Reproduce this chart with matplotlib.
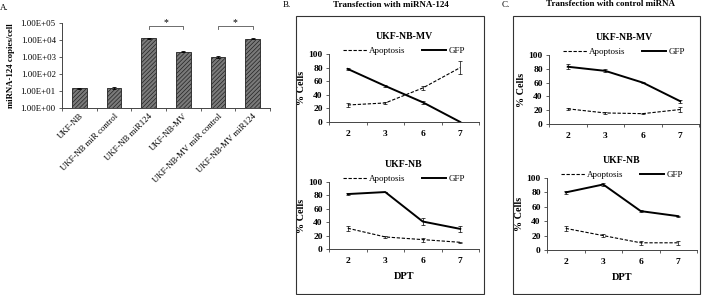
import matplotlib
matplotlib.use("Agg")
import matplotlib.pyplot as plt
import numpy as np
from matplotlib.ticker import FixedLocator, FuncFormatter
from matplotlib.patches import Rectangle

plt.rcParams['font.family'] = ['Liberation Serif', 'DejaVu Serif']
plt.rcParams['hatch.linewidth'] = 0.5

# ---------------- data ----------------
bar_categories = ["UKF-NB", "UKF-NB miR control", "UKF-NB miR124", "UKF-NB-MV",
                  "UKF-NB-MV miR control", "UKF-NB-MV miR124"]
bar_values = [14, 15, 12600, 2050, 1050, 12200]
bar_errors = [1, 2, 800, 100, 150, 700]
ytick_vals = [1, 10, 100, 1000, 10000, 100000]

dpt_labels = ["2", "3", "6", "7"]

# B: transfection with miRNA-124
b_mv_apop = [25, 28, 50, 80]
b_mv_apop_err = [3, 1.5, 3.5, 10]
b_mv_gfp = [78, 53, 29, 0]
b_mv_gfp_err = [2, 2, 2, 0.5]

b_nb_apop = [31, 18, 14, 10]
b_nb_apop_err = [4, 1, 3, 1]
b_nb_gfp = [82, 85, 41, 30]
b_nb_gfp_err = [1, 0.5, 5, 5]

# C: transfection with control miRNA
c_mv_apop = [22, 16, 15, 21]
c_mv_apop_err = [1, 2, 1, 4]
c_mv_gfp = [83, 77, 60, 33]
c_mv_gfp_err = [4, 2, 0.5, 2]

c_nb_apop = [30, 20, 10, 10]
c_nb_apop_err = [3, 2, 3, 3]
c_nb_gfp = [80, 91, 54, 47]
c_nb_gfp_err = [2, 2, 1, 0.5]

W, H = 703, 295
fig = plt.figure(figsize=(W / 100, H / 100), dpi=100)


def rect(x0, y0, x1, y1):
    return [x0 / W, 1 - y1 / H, (x1 - x0) / W, (y1 - y0) / H]


AX_COL = '#444444'

# ---------------- Panel A ----------------
axA = fig.add_axes(rect(62, 23, 270, 108))
x = np.arange(len(bar_categories))
axA.bar(x, bar_values, width=0.43, color='#7a7a7a', edgecolor='#222222',
        hatch='////////', linewidth=0.6, bottom=1)
axA.errorbar(x, bar_values, yerr=bar_errors, fmt='none', ecolor='black',
             elinewidth=0.6, capsize=1.5, capthick=0.6)
axA.set_yscale('log')
axA.set_ylim(1, 1e5)
axA.set_xlim(-0.5, len(bar_categories) - 0.5)
axA.yaxis.set_major_locator(FixedLocator(ytick_vals))
axA.yaxis.set_minor_locator(FixedLocator([]))
axA.yaxis.set_major_formatter(FuncFormatter(lambda v, p: "%.2E" % v))
axA.set_xticks(x)
axA.set_xticklabels(bar_categories, rotation=45, ha='right', rotation_mode='anchor',
                    fontsize=6.3)
axA.set_xticks(np.arange(-0.5, len(bar_categories)), minor=True)
axA.tick_params(axis='x', which='major', length=0, pad=3)
axA.tick_params(axis='x', which='minor', length=2.5, direction='out', color=AX_COL, width=0.6)
axA.tick_params(axis='y', which='major', length=2.5, direction='out', labelsize=6.3,
                color=AX_COL, width=0.6, pad=2)
for s in ['top', 'right']:
    axA.spines[s].set_visible(False)
for s in ['left', 'bottom']:
    axA.spines[s].set_color(AX_COL)
    axA.spines[s].set_linewidth(0.7)
axA.set_ylabel("miRNA-124 copies/cell", fontsize=6.3, fontweight='bold', labelpad=4)

# significance brackets
for (a, b) in [(2, 3), (4, 5)]:
    yb = 10 ** 4.82
    yl = 10 ** 4.64
    axA.plot([a, a, b, b], [yl, yb, yb, yl], color='#555555', lw=0.6, clip_on=False)
    axA.text((a + b) / 2, 10 ** 5.05, "*", ha='center', va='center', fontsize=7)

fig.text(0 / W, 1 - 8 / H, "A.", fontsize=6.5, ha='left', va='center')

# ---------------- Panels B and C ----------------
fig.add_artist(Rectangle((296 / W, 1 - 294 / H), (484 - 296) / W, (294 - 16) / H,
                         transform=fig.transFigure, fill=False, edgecolor='#333333', lw=0.8))
fig.add_artist(Rectangle((513 / W, 1 - 294 / H), (700 - 513) / W, (294 - 16) / H,
                         transform=fig.transFigure, fill=False, edgecolor='#333333', lw=0.8))
fig.text(283 / W, 1 - 5 / H, "B.", fontsize=6.5, ha='left', va='center')
fig.text(391 / W, 1 - 5 / H, "Transfection with miRNA-124", fontsize=6.5,
         fontweight='bold', ha='center', va='center')
fig.text(502 / W, 1 - 5 / H, "C.", fontsize=6.5, ha='left', va='center')
fig.text(611 / W, 1 - 4 / H, "Transfection with control miRNA", fontsize=6.5,
         fontweight='bold', ha='center', va='center')


def line_panel(r, title, apop, apop_err, gfp, gfp_err, show_dpt):
    ax = fig.add_axes(rect(*r))
    xs = np.arange(len(dpt_labels))
    la = ax.errorbar(xs, apop, yerr=apop_err, color='black', ls=(0, (3, 1.5)), lw=0.8,
                     elinewidth=0.5, capsize=1.5, capthick=0.5, label='Apoptosis')
    lg = ax.errorbar(xs, gfp, yerr=gfp_err, color='black', ls='-', lw=1.4,
                     elinewidth=0.5, capsize=1.5, capthick=0.5, label='GFP')
    ax.set_xlim(-0.5, len(dpt_labels) - 0.5)
    ax.set_ylim(0, 100)
    ax.set_yticks(np.arange(0, 101, 20))
    ax.set_xticks(xs)
    ax.set_xticklabels(dpt_labels)
    ax.set_xticks(np.arange(-0.5, len(dpt_labels)), minor=True)
    ax.tick_params(axis='x', which='major', length=0, pad=6, labelsize=6.8)
    ax.tick_params(axis='x', which='minor', length=2.5, direction='out', color=AX_COL, width=0.6)
    ax.tick_params(axis='y', which='major', length=2.5, direction='out', labelsize=6.8,
                   color=AX_COL, width=0.6, pad=2)
    for lab in ax.get_xticklabels() + ax.get_yticklabels():
        lab.set_fontweight('bold')
    for s in ['top', 'right']:
        ax.spines[s].set_visible(False)
    for s in ['left', 'bottom']:
        ax.spines[s].set_color(AX_COL)
        ax.spines[s].set_linewidth(0.7)
    ax.set_ylabel("% Cells", fontsize=7.3, fontweight='bold', labelpad=2)
    ax.set_title(title, fontsize=7, fontweight='bold', pad=11)
    ax.legend(handles=[la[0], lg[0]], labels=['Apoptosis', 'GFP'], ncol=2,
              loc='lower center', bbox_to_anchor=(0.5, 0.98), frameon=False,
              fontsize=6.5, handlelength=2.6, handletextpad=0.3, columnspacing=1.8,
              borderpad=0, borderaxespad=0)
    if show_dpt:
        ax.set_xlabel("DPT", fontsize=7.5, fontweight='bold', labelpad=5)
    return ax


line_panel((329, 54, 479, 122), "UKF-NB-MV", b_mv_apop, b_mv_apop_err, b_mv_gfp, b_mv_gfp_err, False)
line_panel((329, 182, 479, 249), "UKF-NB", b_nb_apop, b_nb_apop_err, b_nb_gfp, b_nb_gfp_err, True)
line_panel((549, 55, 699, 124), "UKF-NB-MV", c_mv_apop, c_mv_apop_err, c_mv_gfp, c_mv_gfp_err, False)
line_panel((547, 178, 697, 250), "UKF-NB", c_nb_apop, c_nb_apop_err, c_nb_gfp, c_nb_gfp_err, True)

fig.savefig("out.png", dpi=100)
